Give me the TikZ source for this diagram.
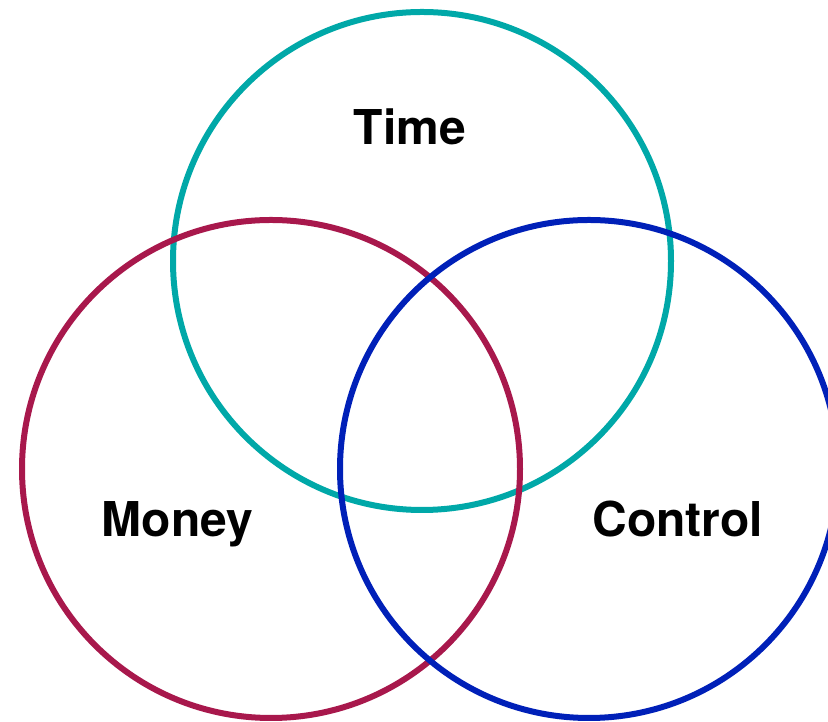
\documentclass[tikz,border=0pt]{standalone}
\usepackage{fontspec}
\setmainfont{TeX Gyre Heros}
\definecolor{timecol}{RGB}{0,168,168}
\definecolor{moneycol}{RGB}{168,24,76}
\definecolor{controlcol}{RGB}{0,32,184}
\begin{document}
\begin{tikzpicture}[x=1pt,y=1pt,
  ring/.style={line width=6pt},
  label/.style={font=\fontsize{48}{52}\selectfont\bfseries, anchor=base, inner sep=0pt}]
  \useasboundingbox (0,0) rectangle (828,722);
  % circle centres
  \coordinate (ctime) at (422,461);
  \coordinate (cmoney) at (271,253);
  \coordinate (ccontrol) at (589,253);
  % the three sets
  \draw[ring, timecol] (ctime) circle[radius=249];
  \draw[ring, moneycol] (cmoney) circle[radius=249];
  \draw[ring, controlcol] (ccontrol) circle[radius=249];
  % set names
  \node[label] (ltime) at (410,577) {Time};
  \node[label] (lmoney) at (177.5,185) {Money};
  \node[label] (lcontrol) at (678,185) {Control};
\end{tikzpicture}
\end{document}
